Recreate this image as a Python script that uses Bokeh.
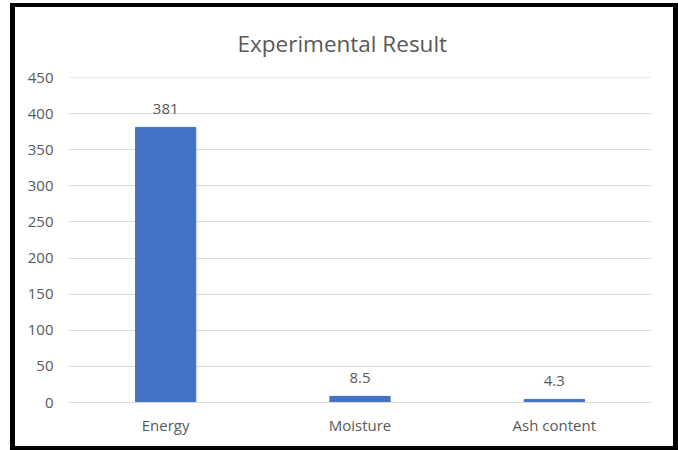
from bokeh.plotting import figure
from bokeh.models import Range1d, FixedTicker, ColumnDataSource
from bokeh.core.properties import value
from bokeh.embed import file_html
from bokeh.resources import INLINE

categories = ["Energy", "Moisture", "Ash content"]
values = [381, 8.5, 4.3]
y_ticks = [0, 50, 100, 150, 200, 250, 300, 350, 400, 450]
title_text = "Experimental Result"

labels = [f"{v:g}" for v in values]
src = ColumnDataSource(dict(cat=categories, val=values, lab=labels))

FONT = "Open Sans"
GREY = "#595959"

p = figure(x_range=categories, y_range=Range1d(0, 450.05), width=658, height=439,
           output_backend="svg", toolbar_location=None, title=title_text,
           min_border_left=53, min_border_right=32, min_border_top=70, min_border_bottom=52)
p.styles = {"border-style": "solid", "border-color": "black",
            "border-width": "4px 5px 4px 5px", "margin": "3px 0px 0px 10px",
            "box-sizing": "content-box"}

p.vbar(x="cat", top="val", width=0.31, source=src, color="#4472c4")
p.text(x="cat", y="val", text="lab", source=src, text_align="center",
       text_baseline="alphabetic", y_offset=-18, text_font=value(FONT),
       text_font_size="15px", text_color=GREY)

p.title.align = "left"
p.title.offset = 169
p.title.standoff = 37
p.title.text_font = FONT
p.title.text_font_size = "22.5px"
p.title.text_font_style = "normal"
p.title.text_color = GREY

p.outline_line_color = None
p.xgrid.grid_line_color = None
p.ygrid.grid_line_color = "#d9d9d9"
p.ygrid.grid_line_width = 1

p.yaxis.ticker = FixedTicker(ticks=y_ticks)
for ax in (p.xaxis, p.yaxis):
    ax.axis_line_color = None
    ax.major_tick_line_color = None
    ax.minor_tick_line_color = None
    ax.major_tick_out = 0
    ax.major_tick_in = 0
    ax.major_label_text_font = FONT
    ax.major_label_text_font_size = "15px"
    ax.major_label_text_color = GREY
p.yaxis.major_label_standoff = 15
p.xaxis.major_label_standoff = 12
p.xaxis.axis_line_color = "#d9d9d9"

open("out.html", "w").write(file_html(p, INLINE))
